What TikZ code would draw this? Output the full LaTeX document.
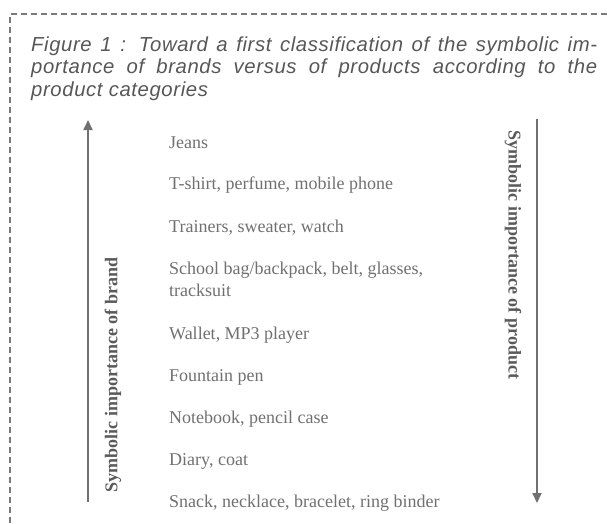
\documentclass[tikz,border=0pt]{standalone}
\usepackage{fontspec}
\setmainfont{Liberation Serif}
\newfontfamily\captionsans[LetterSpace=3]{Liberation Sans}
\usetikzlibrary{arrows.meta}
\definecolor{framegrey}{HTML}{7A7A7A}
\definecolor{captiongrey}{HTML}{575757}
\definecolor{itemgrey}{HTML}{707070}
\definecolor{axisgrey}{HTML}{707070}
\definecolor{labelgrey}{HTML}{5A5A5A}

\begin{document}
\begin{tikzpicture}[x=1pt,y=-1pt,
  caption/.style={anchor=base west, inner sep=0, text=captiongrey,
    font=\captionsans\itshape\fontsize{20.3}{22.5}\selectfont},
  item/.style={anchor=base west, inner sep=0, text=itemgrey,
    font=\fontsize{18}{22}\selectfont},
  axisarrow/.style={draw=axisgrey, line width=2pt,
    -{Triangle[length=10pt,width=9pt]}},
  axislabel/.style={inner sep=0, text=labelgrey,
    font=\bfseries\fontsize{18}{22}\selectfont}]
\useasboundingbox (0,0) rectangle (607,523);

% dashed frame (open to the right and bottom)
\coordinate (fbl) at (10,523);
\coordinate (ftl) at (10,14);
\coordinate (ftr) at (607,14);
\draw[framegrey, line width=1.8pt, dash pattern=on 6pt off 4pt] (fbl) -- (ftl) -- (ftr);

% caption, justified over two lines
\node[caption] (cap1) at (31,51) {\makebox[566pt][s]{Figure 1 : Toward a first classification of the symbolic im-}};
\node[caption] (cap2) at (31,73.5) {\makebox[566pt][s]{portance of brands versus of products according to the}};
\node[caption] (cap3) at (31,96) {product categories};

% product categories
\node[item] (i1) at (169,148) {Jeans};
\node[item] (i2) at (169,189) {T-shirt, perfume, mobile phone};
\node[item] (i3) at (169,232) {Trainers, sweater, watch};
\node[item] (i4) at (169,274) {\begin{tabular}[t]{@{}l@{}}School bag/backpack, belt, glasses,\\tracksuit\end{tabular}};
\node[item] (i5) at (169,339) {Wallet, MP3 player};
\node[item] (i6) at (169,381) {Fountain pen};
\node[item] (i7) at (169,423) {Notebook, pencil case};
\node[item] (i8) at (169,465) {Diary, coat};
\node[item] (i9) at (169,507) {Snack, necklace, bracelet, ring binder};

% axes
\coordinate (brandlow) at (88,502);
\coordinate (brandhigh) at (88,120);
\draw[axisarrow] (brandlow) -- (brandhigh);
\node[axislabel, rotate=90] (brandlabel) at (113,375) {Symbolic importance of brand};

\coordinate (prodhigh) at (537,119);
\coordinate (prodlow) at (537,503);
\draw[axisarrow] (prodhigh) -- (prodlow);
\node[axislabel, rotate=-90] (prodlabel) at (513,255) {Symbolic importance of product};
\end{tikzpicture}
\end{document}
